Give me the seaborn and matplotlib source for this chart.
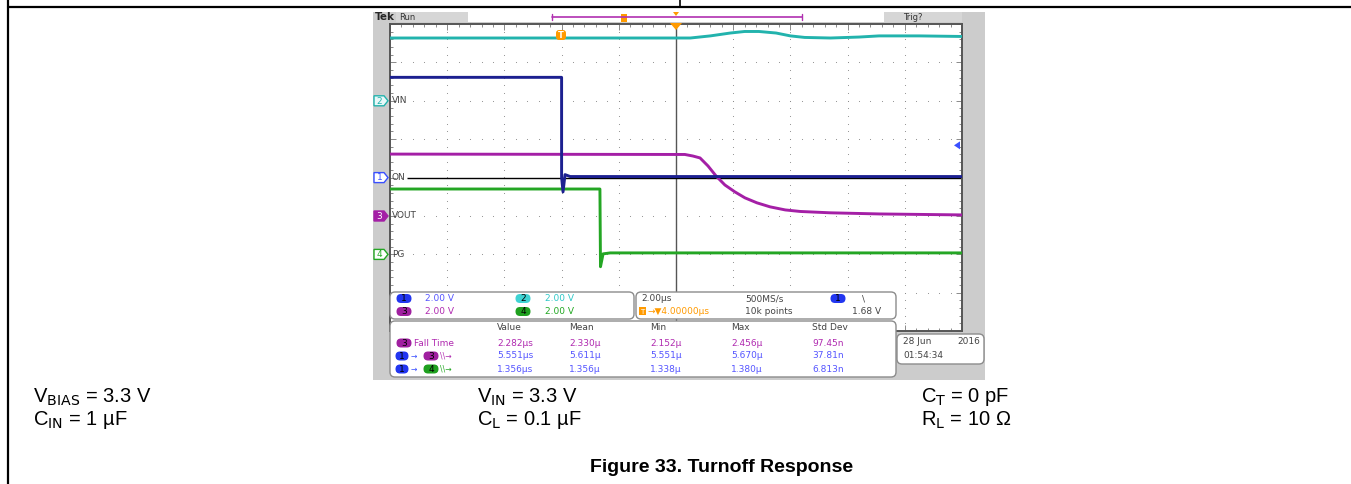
import matplotlib
matplotlib.use("Agg")
import matplotlib.pyplot as plt
import numpy as np
import pandas as pd
import seaborn as sns
from matplotlib.patches import FancyBboxPatch, Rectangle, Polygon

# scope traces: time (us, 0 = trigger) and level (V); 2 V/div, 2 us/div
vin_t = [-6.0, 4.5, 5.2, 5.9, 6.4, 6.9, 7.5, 8.0, 8.5, 9.4, 10.4, 11.1, 12.5, 14.0]
vin_v = [3.27, 3.27, 3.38, 3.53, 3.61, 3.61, 3.53, 3.38, 3.30, 3.27, 3.32, 3.38, 3.38, 3.35]

on_t = [-6.0, 0.0, 0.0, 0.05, 0.12, 0.3, 14.0]
on_v = [5.22, 5.22, 0.0, -0.75, 0.15, 0.05, 0.05]

vout_t = [-6.0, 4.31, 4.59, 4.84, 5.12, 5.40, 5.71, 6.06, 6.41, 6.83, 7.29, 7.82, 8.34, 9.39, 11.13, 14.0]
vout_v = [3.22, 3.20, 3.12, 3.02, 2.60, 2.08, 1.61, 1.25, 0.94, 0.68, 0.47, 0.31, 0.23, 0.16, 0.10, 0.05]

pg_t = [-6.0, 1.34, 1.36, 1.45, 1.7, 14.0]
pg_v = [3.40, 3.40, -0.65, 0.02, 0.07, 0.07]

ch_offsets = {"VIN": 2.0, "ON": 0.0, "VOUT": -1.0, "PG": -2.0}  # ground marker, div
ch_colors = {"VIN": "#22b3ad", "ON": "#1c2090", "VOUT": "#a41fa6", "PG": "#24a624"}
ch_numbers = {"VIN": "2", "ON": "1", "VOUT": "3", "PG": "4"}

volts_per_div = 2.0
us_per_div = 2.0
trig_level = 1.68

scale_rows = [("1", "2.00 V", "2", "2.00 V"), ("3", "2.00 V", "4", "2.00 V")]
meas_header = ["Value", "Mean", "Min", "Max", "Std Dev"]
meas_rows = [
    ["2.282µs", "2.330µ", "2.152µ", "2.456µ", "97.45n"],
    ["5.551µs", "5.611µ", "5.551µ", "5.670µ", "37.81n"],
    ["1.356µs", "1.356µ", "1.338µ", "1.380µ", "6.813n"],
]

W, H = 1351, 484
pill_colors = {"1": "#2236f0", "2": "#3fd3d3", "3": "#a020a0", "4": "#1fa01f"}
text_colors = {"1": "#5555ff", "2": "#2fc8c8", "3": "#b02ab0", "4": "#22a822"}
orange = "#ff9a00"

sns.set_theme(style="white")
plt.rcParams["font.family"] = ["DejaVu Sans"]
plt.rcParams["mathtext.fontset"] = "custom"
plt.rcParams["mathtext.rm"] = "Liberation Sans Narrow"

fig = plt.figure(figsize=(W / 100, H / 100), dpi=100)

# background layer in pixel coordinates
bg = fig.add_axes([0, 0, 1, 1], zorder=0)
bg.set_xlim(0, W)
bg.set_ylim(H, 0)
bg.axis("off")
bg.plot([8, W], [7, 7], color="black", lw=1.6)
bg.plot([8, 8], [0, H], color="black", lw=1.6)
bg.plot([680, 680], [0, 7], color="black", lw=1.2)
bg.add_patch(Rectangle((373, 12), 612, 368, color="#cccccc", lw=0))
bg.add_patch(Rectangle((468, 12), 416, 10, color="white", lw=0))
bg.add_patch(Rectangle((396, 12), 72, 10, color="#d6d6d6", lw=0))
bg.add_patch(Rectangle((884, 12), 78, 10, color="#d6d6d6", lw=0))
bg.text(375, 17, "Tek", fontsize=7.5, fontweight="bold", va="center", ha="left")
bg.text(399, 17, "Run", fontsize=6, color="#333333", va="center", ha="left")
bg.text(903, 17, "Trig?", fontsize=6, color="#333333", va="center", ha="left")

# scope graticule
left, right, top, bottom = 390, 962, 24, 331
ax = fig.add_axes([left / W, 1 - bottom / H, (right - left) / W, (bottom - top) / H], zorder=1)
ax.set_facecolor("white")
t0 = -6.0
ax.set_xlim(t0, t0 + 10 * us_per_div)
ax.set_ylim(-4, 4)

gx = np.arange(t0, t0 + 10 * us_per_div + 0.01, us_per_div / 5)
gy = np.arange(-4, 4.01, 0.2)
for xv in np.arange(t0 + us_per_div, t0 + 10 * us_per_div, us_per_div):
    ax.scatter(np.full(len(gy), xv), gy, s=0.6, color="#8a8a8a", lw=0, zorder=1)
for yv in np.arange(-3, 4, 1):
    ax.scatter(gx, np.full(len(gx), yv), s=0.6, color="#8a8a8a", lw=0, zorder=1)
ax.axvline(t0 + 5 * us_per_div, color="#555555", lw=1.0, zorder=1)

ax.set_xticks(np.arange(t0, t0 + 10 * us_per_div + 0.01, us_per_div))
ax.set_xticks(gx, minor=True)
ax.set_yticks(np.arange(-4, 4.01, 1))
ax.set_yticks(gy, minor=True)
ax.tick_params(which="both", direction="in", top=True, right=True, bottom=True, left=True,
               labelbottom=False, labelleft=False, color="#777777", width=0.6)
ax.tick_params(which="major", length=4)
ax.tick_params(which="minor", length=2)
for s in ax.spines.values():
    s.set_color("#555555")
    s.set_linewidth(1.4)

ax.hlines(0, -5.4, 14, color="black", lw=1.0, zorder=2)

traces = {"VIN": (vin_t, vin_v), "ON": (on_t, on_v), "VOUT": (vout_t, vout_v), "PG": (pg_t, pg_v)}
for name in ["VIN", "VOUT", "PG", "ON"]:
    t, v = traces[name]
    df = pd.DataFrame({"t": t, "div": ch_offsets[name] + np.array(v) / volts_per_div})
    sns.lineplot(data=df, x="t", y="div", ax=ax, color=ch_colors[name], lw=2.1,
                 estimator=None, sort=False, zorder=3)
ax.set_xlabel("")
ax.set_ylabel("")

# overlay layer in pixel coordinates
ov = fig.add_axes([0, 0, 1, 1], zorder=2)
ov.set_xlim(0, W)
ov.set_ylim(H, 0)
ov.axis("off")
ov.patch.set_alpha(0)


def pill(x, y, num, w=15, h=9):
    ov.add_patch(FancyBboxPatch((x - w / 2, y - h / 2), w, h,
                                boxstyle="round,pad=0,rounding_size=4.5",
                                fc=pill_colors[num], ec="none"))
    ov.text(x, y + 0.3, num, fontsize=6.5, color="black", ha="center", va="center")


def panel(x0, y0, x1, y1):
    ov.add_patch(FancyBboxPatch((x0, y0), x1 - x0, y1 - y0,
                                boxstyle="round,pad=0,rounding_size=5",
                                fc="white", ec="#8c8c8c", lw=1.0))


# top record bracket and markers
ov.plot([552, 802], [17, 17], color="#b030b0", lw=1.2)
ov.plot([552, 552], [14, 20], color="#b030b0", lw=1.0)
ov.plot([802, 802], [14, 20], color="#b030b0", lw=1.0)
ov.add_patch(Rectangle((621, 14), 6, 8, color=orange, lw=0))
ov.add_patch(Polygon([[673, 12], [679, 12], [676, 16]], color=orange, lw=0))
ov.add_patch(Polygon([[670, 23], [682, 23], [676, 30]], color=orange, lw=0))
ov.add_patch(FancyBboxPatch((556, 30), 10, 10, boxstyle="round,pad=0,rounding_size=3",
                            fc=orange, ec="none"))
ov.text(561, 35.5, "T", fontsize=6, color="white", ha="center", va="center", fontweight="bold")

# trigger level arrow
trig_y = 177.6 - trig_level / volts_per_div * 38.4
ov.add_patch(Polygon([[954, trig_y], [960, trig_y - 4], [960, trig_y + 4]], color="#3a50ff", lw=0))

# channel ground markers
for name, off in ch_offsets.items():
    y = 177.6 - off * 38.4
    num = ch_numbers[name]
    filled = name == "VOUT"
    ov.add_patch(Polygon([[374, y - 5], [384, y - 5], [388, y], [384, y + 5], [374, y + 5]],
                         fc=ch_colors[name] if filled else "#e8f8f8" if name == "VIN" else "white",
                         ec=ch_colors[name] if name != "ON" else "#3a50ff", lw=1.0))
    ov.text(379.5, y + 0.3, num, fontsize=6.5, ha="center", va="center",
            color="white" if filled else (ch_colors[name] if name != "ON" else "#3a50ff"))
    ov.text(392, y, name, fontsize=6.5, color="#444444", ha="left", va="center")

# readout panels
panel(390, 292, 634, 319)
panel(636, 292, 896, 319)
panel(390, 321, 896, 377)
panel(897, 334, 984, 364)

for i, (n1, s1, n2, s2) in enumerate(scale_rows):
    y = 298.5 + i * 13
    pill(404, y, n1)
    ov.text(425, y, s1, fontsize=6.5, color=text_colors[n1], va="center")
    pill(523, y, n2)
    ov.text(545, y, s2, fontsize=6.5, color=text_colors[n2], va="center")

ov.text(641, 298.5, "2.00µs", fontsize=6.5, color="#444444", va="center")
ov.text(745, 298.5, "500MS/s", fontsize=6.5, color="#444444", va="center")
pill(838, 298.5, "1")
ov.text(862, 298.5, "\\", fontsize=6.5, color="#444444", va="center")
ov.add_patch(Rectangle((639, 307), 7, 8, color=orange, lw=0))
ov.text(642.5, 311.5, "T", fontsize=5, color="white", ha="center", va="center")
ov.text(647, 311.5, "→▼4.00000µs", fontsize=6.5, color=orange, va="center")
ov.text(745, 311.5, "10k points", fontsize=6.5, color="#444444", va="center")
ov.text(852, 311.5, "1.68 V", fontsize=6.5, color="#444444", va="center")

col_x = [497, 569, 650, 731, 812]
for x, h in zip(col_x, meas_header):
    ov.text(x, 328, h, fontsize=6.5, color="#444444", va="center")
row_y = [343, 356, 369]
pill(404, row_y[0], "3")
ov.text(414, row_y[0], "Fall Time", fontsize=6.5, color=text_colors["3"], va="center")
for y, target in zip(row_y[1:], ["3", "4"]):
    pill(402, y, "1", w=13)
    ov.text(411, y, "→", fontsize=5.5, color="#3a50ff", va="center")
    pill(431, y, target, w=15)
    ov.text(440, y, "\\\\→", fontsize=5.5, color=text_colors[target], va="center")
for y, row, c in zip(row_y, meas_rows, ["3", "1", "1"]):
    for x, val in zip(col_x, row):
        ov.text(x, y, val, fontsize=6.5, color=text_colors[c], va="center")

ov.text(903, 342, "28 Jun", fontsize=6.5, color="#444444", va="center")
ov.text(980, 342, "2016", fontsize=6.5, color="#444444", va="center", ha="right")
ov.text(903, 355, "01:54:34", fontsize=6.5, color="#444444", va="center")

# test conditions and caption
narrow = ["Liberation Sans Narrow", "Liberation Sans", "DejaVu Sans"]
cap = dict(fontsize=14.5, color="black", va="center", ha="left", family=narrow)
ov.text(33, 397, r"V$_{\mathrm{BIAS}}$ = 3.3 V", **cap)
ov.text(33, 420, r"C$_{\mathrm{IN}}$ = 1 µF", **cap)
ov.text(477, 397, r"V$_{\mathrm{IN}}$ = 3.3 V", **cap)
ov.text(477, 420, r"C$_{\mathrm{L}}$ = 0.1 µF", **cap)
ov.text(921, 397, r"C$_{\mathrm{T}}$ = 0 pF", **cap)
ov.text(921, 420, r"R$_{\mathrm{L}}$ = 10 Ω", **cap)
ov.text(722, 468, "Figure 33. Turnoff Response", fontsize=14, fontweight="bold",
        ha="center", va="center", color="black", family=narrow)

fig.savefig("out.png", dpi=100)
